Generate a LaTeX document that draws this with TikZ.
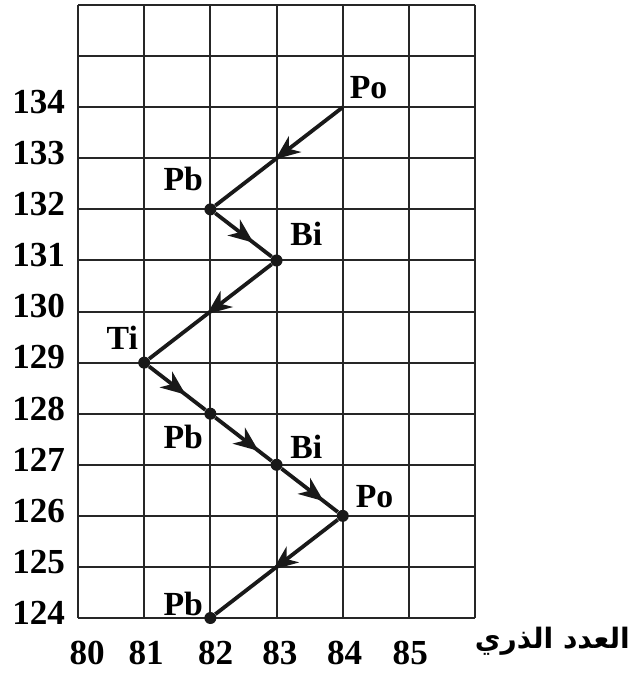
\documentclass[tikz,border=0pt]{standalone}
\usepackage{fontspec}
\setmainfont{Liberation Serif}
\newfontfamily\arabicfont[Script=Arabic]{DejaVu Sans}
\TeXXeTstate=1
\usetikzlibrary{arrows.meta,decorations.markings}
\tikzset{
  gridline/.style={line width=1.4pt, black!85},
  decay/.style={line width=2.7pt, black!90, postaction={decorate},
    decoration={markings, mark=at position #1 with {\arrow{Stealth[length=6.2mm,width=5mm,inset=1.9mm]}}}},
  nucleus/.style={circle, fill=black!90, inner sep=0pt, minimum size=3mm},
  element/.style={font=\fontsize{24}{28}\selectfont\bfseries},
  axisnum/.style={font=\fontsize{25}{30}\selectfont\bfseries}
}

\begin{document}
\begin{tikzpicture}[x=1.655cm, y=1.277cm]
\useasboundingbox (-1.178,-1.096) rectangle (8.399,12.10);

% Draw the grid
\foreach \i in {0,...,6} \draw[gridline] (\i,0) -- (\i,12);
\foreach \j in {0,...,12} \draw[gridline] (0,\j) -- (6,\j);

% Axis numbers
\foreach \j in {0,...,10} {
  \pgfmathtruncatemacro{\n}{124+\j}
  \node[axisnum, anchor=east] (n\n) at (-0.12,\j+0.1) {\n};
}
\foreach \x/\z in {0.14/80, 1.03/81, 2.08/82, 3.05/83, 4.03/84, 5.02/85}
  \node[axisnum] (z\z) at (\x,-0.68) {\z};
\node[anchor=west, font=\fontsize{20}{24}\selectfont\bfseries] (zlabel) at (5.92,-0.45) {\arabicfont\beginR العدد الذري\endR};

% Define the nuclei
\coordinate (po1) at (4,10);
\node[nucleus] (pb1) at (2,8) {};
\node[nucleus] (bi1) at (3,7) {};
\node[nucleus] (ti) at (1,5) {};
\node[nucleus] (pb2) at (2,4) {};
\node[nucleus] (bi2) at (3,3) {};
\node[nucleus] (po2) at (4,2) {};
\node[nucleus] (pb3) at (2,0) {};

% Element names
\node[element] (lpo1) at (4.39,10.39) {Po};
\node[element] (lpb1) at (1.59,8.59) {Pb};
\node[element] (lbi1) at (3.45,7.53) {Bi};
\node[element] (lti) at (0.67,5.49) {Ti};
\node[element] (lpb2) at (1.59,3.54) {Pb};
\node[element] (lbi2) at (3.45,3.35) {Bi};
\node[element] (lpo2) at (4.48,2.37) {Po};
\node[element] (lpb3) at (1.59,0.27) {Pb};

% Draw the decay chain
\draw[decay=0.53] (po1) -- (pb1);
\draw[decay=0.68] (pb1) -- (bi1);
\draw[decay=0.53] (bi1) -- (ti);
\draw[decay=0.65] (ti) -- (pb2);
\draw[decay=0.77] (pb2) -- (bi2);
\draw[decay=0.75] (bi2) -- (po2);
\draw[decay=0.53] (po2) -- (pb3);
\end{tikzpicture}
\end{document}
